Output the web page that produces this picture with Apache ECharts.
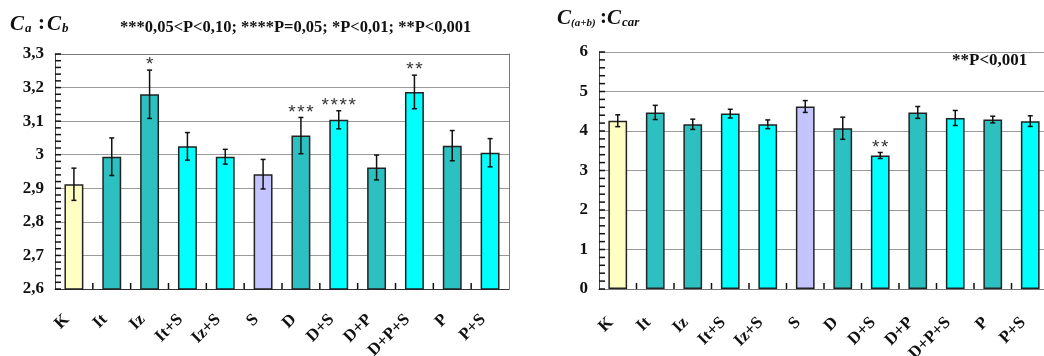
<!DOCTYPE html>
<html><head><meta charset="utf-8">
<script src="https://cdn.jsdelivr.net/npm/echarts@6/dist/echarts.min.js"></script>
<style>html,body{margin:0;padding:0;background:#fff;overflow:hidden}#chart{width:1044px;height:356px}</style>
</head><body><div id="chart"></div>
<script>
// Treatments shown on both panels
const categories = ['K', 'It', 'Iz', 'It+S', 'Iz+S', 'S', 'D', 'D+S', 'D+P', 'D+P+S', 'P', 'P+S'];

// Chlorophyll a : b ratio, with error and significance marks
const ratioAB = [2.912, 2.994, 3.180, 3.025, 2.994, 2.942, 3.057, 3.104, 2.962, 3.187, 3.027, 3.006];
const ratioABErr = [0.048, 0.056, 0.072, 0.041, 0.022, 0.044, 0.054, 0.027, 0.037, 0.050, 0.045, 0.042];
const ratioABMarks = ['', '', '*', '', '', '', '***', '****', '', '**', '', ''];
// [min, max, major step, minor step]
const ratioABTicks = [2.6, 3.3, 0.1, 0.02];

// Chlorophyll (a+b) : carotenoids ratio
const ratioCar = [4.26, 4.47, 4.17, 4.44, 4.17, 4.62, 4.07, 3.38, 4.47, 4.33, 4.29, 4.25];
const ratioCarErr = [0.15, 0.18, 0.13, 0.11, 0.11, 0.15, 0.28, 0.076, 0.15, 0.19, 0.085, 0.135];
const ratioCarMarks = ['', '', '', '', '', '', '', '**', '', '', '', ''];
const ratioCarTicks = [0, 6, 1, 0.2];

// Treatment group of each category, used for bar fill
const treatmentGroup = ['control', 'single', 'single', 'withS', 'withS', 'sOnly', 'single', 'withS', 'single', 'withS', 'single', 'withS'];
const groupColors = { control: '#FFFFC4', single: '#2CC0C0', withS: '#00FFFF', sOnly: '#C4C4FF' };

const SERIF = '"Liberation Serif", "Times New Roman", serif';
const fmtComma = v => String(Math.round(v * 10) / 10).replace('.', ',');

function xAxisFor(gi, margin) {
  return {
    type: 'category', gridIndex: gi, data: categories,
    axisLine: { show: true, lineStyle: { color: '#333', width: 1 } },
    axisTick: { show: false },
    axisLabel: {
      rotate: 45, interval: 0, margin: margin, padding: [0, 10, 0, 0],
      fontFamily: SERIF, fontWeight: 'bold', fontSize: 17, color: '#111'
    }
  };
}
// Top edge of the plot frame
function topFrameAxis(gi) {
  return {
    type: 'category', gridIndex: gi, position: 'top', data: categories,
    axisLine: { show: true, lineStyle: { color: '#777', width: 1 } },
    axisTick: { show: false }, axisLabel: { show: false }, splitLine: { show: false }
  };
}
function yAxisFor(gi, ticks) {
  return {
    type: 'value', gridIndex: gi, min: ticks[0], max: ticks[1], interval: ticks[2],
    axisLine: { show: true, lineStyle: { color: '#444', width: 1 } },
    axisTick: { show: false },
    splitLine: { show: true, lineStyle: { color: '#9a9a9a', width: 1 } },
    axisLabel: {
      formatter: fmtComma, margin: 11,
      fontFamily: SERIF, fontWeight: 'bold', fontSize: 17, color: '#111'
    }
  };
}
// Right edge of the plot frame
function rightFrameAxis(gi, ticks) {
  return {
    type: 'value', gridIndex: gi, position: 'right', min: ticks[0], max: ticks[1], interval: ticks[2],
    axisLine: { show: true, lineStyle: { color: '#777', width: 1 } },
    axisTick: { show: false }, axisLabel: { show: false }, splitLine: { show: false }
  };
}
function barSeries(xi, yi, vals) {
  return {
    type: 'bar', xAxisIndex: xi, yAxisIndex: yi, barWidth: '50%',
    data: vals.map((v, i) => ({ value: v, itemStyle: { color: groupColors[treatmentGroup[i]] } })),
    itemStyle: { borderColor: '#222', borderWidth: 1.5 },
    emphasis: { disabled: true }
  };
}
function errorSeries(xi, yi, vals, errs, marks) {
  return {
    type: 'custom', xAxisIndex: xi, yAxisIndex: yi, z: 5,
    data: vals.map((v, i) => [i, v, errs[i]]),
    encode: { x: 0, y: 1 },
    renderItem(params, api) {
      const i = api.value(0), v = api.value(1), e = api.value(2);
      const top = api.coord([i, v + e]);
      const bot = api.coord([i, v - e]);
      const cap = 2.5;
      const st = { stroke: '#111', lineWidth: 1.5 };
      const children = [
        { type: 'line', shape: { x1: top[0], y1: top[1], x2: bot[0], y2: bot[1] }, style: st },
        { type: 'line', shape: { x1: top[0] - cap, y1: top[1], x2: top[0] + cap, y2: top[1] }, style: st },
        { type: 'line', shape: { x1: bot[0] - cap, y1: bot[1], x2: bot[0] + cap, y2: bot[1] }, style: st }
      ];
      const m = marks[params.dataIndex];
      if (m) {
        children.push({
          type: 'text', x: top[0], y: top[1] - 5,
          style: { text: m.split('').join('\u200A'), fill: '#333', font: '19px "Liberation Sans", Arial, sans-serif', align: 'center', verticalAlign: 'middle' }
        });
      }
      return { type: 'group', children };
    }
  };
}
// Inner tick marks on the value axis and between categories
function frameTickSeries(xi, yi, ticks) {
  return {
    type: 'custom', xAxisIndex: xi, yAxisIndex: yi, z: 10, silent: true,
    data: [[0, ticks[0]]],
    encode: { x: 0, y: 1 },
    renderItem(params, api) {
      const band = api.size([1, 0])[0];
      const origin = api.coord([0, ticks[0]]);
      const left = origin[0] - band / 2;
      const base = origin[1];
      const st = { stroke: '#111', lineWidth: 1.5 };
      const children = [];
      const n = Math.round((ticks[1] - ticks[0]) / ticks[3]);
      for (let k = 0; k <= n; k++) {
        const y = api.coord([0, ticks[0] + k * ticks[3]])[1];
        children.push({ type: 'line', shape: { x1: left, y1: y, x2: left + 6, y2: y }, style: st });
      }
      for (let c = 1; c < categories.length; c++) {
        const x = left + c * band;
        children.push({ type: 'line', shape: { x1: x, y1: base, x2: x, y2: base - 6 }, style: st });
      }
      return { type: 'group', children };
    }
  };
}
function txt(x, y, text, font) {
  return { type: 'text', x, y, style: { text, font, fill: '#111', align: 'left', verticalAlign: 'middle' } };
}

const bigF = 'italic bold 21px ' + SERIF;
const subF = 'italic bold 13px ' + SERIF;
const colonF = 'bold 21px ' + SERIF;

const chart = echarts.init(document.getElementById('chart'));
chart.setOption({
  animation: false,
  backgroundColor: '#fff',
  grid: [
    { left: 55, top: 54, width: 454, height: 235, containLabel: false, outerBoundsMode: 'none' },
    { left: 599, top: 52, width: 450, height: 237, containLabel: false, outerBoundsMode: 'none' }
  ],
  xAxis: [xAxisFor(0, 21), xAxisFor(1, 24), topFrameAxis(0), topFrameAxis(1)],
  yAxis: [
    yAxisFor(0, ratioABTicks), rightFrameAxis(0, ratioABTicks),
    yAxisFor(1, ratioCarTicks), rightFrameAxis(1, ratioCarTicks)
  ],
  series: [
    barSeries(0, 0, ratioAB), errorSeries(0, 0, ratioAB, ratioABErr, ratioABMarks),
    frameTickSeries(0, 0, ratioABTicks),
    barSeries(1, 2, ratioCar), errorSeries(1, 2, ratioCar, ratioCarErr, ratioCarMarks),
    frameTickSeries(1, 2, ratioCarTicks)
  ],
  graphic: [
    txt(10, 25, 'C', bigF), txt(25, 29, 'a', subF), txt(38, 24, ':', colonF),
    txt(47, 25, 'C', bigF), txt(62, 29, 'b', subF),
    txt(120, 28, '***0,05<P<0,10; ****P=0,05; *P<0,01; **P<0,001', 'bold 16.5px ' + SERIF),
    txt(557, 19, 'C', bigF), txt(571, 23, '(a+b)', 'italic bold 11px ' + SERIF), txt(600, 18, ':', colonF),
    txt(607, 19, 'C', bigF), txt(622, 23, 'car', subF),
    txt(952, 61, '**P<0,001', 'bold 17px ' + SERIF)
  ]
});
</script></body></html>
